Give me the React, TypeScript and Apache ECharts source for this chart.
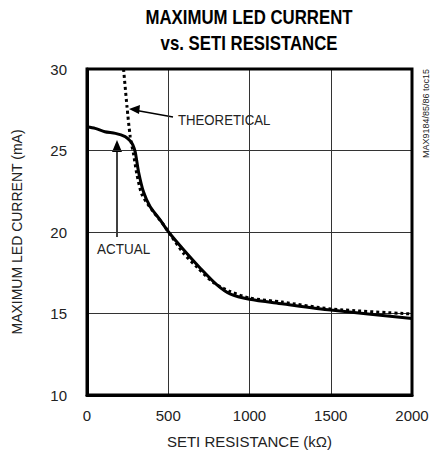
import React, { useEffect, useRef } from "react";
import * as echarts from "echarts";

const actualR = [0, 50, 110, 175, 235, 265, 282, 297, 317, 348, 389, 450, 502, 600, 700, 800, 880, 1000, 1200, 1500, 2000];
const actualI = [26.46, 26.36, 26.15, 26.05, 25.85, 25.6, 25.35, 24.9, 23.7, 22.45, 21.55, 20.74, 20.0, 18.85, 17.75, 16.75, 16.2, 15.87, 15.6, 15.21, 14.7];

const theoR = [225, 246, 266, 287, 307, 338, 400, 471, 512, 594, 676, 778, 881, 1000, 1200, 1500, 2000];
const theoI = [30, 27.7, 25.85, 24.75, 23.55, 22.3, 21.35, 20.45, 19.85, 18.7, 17.85, 16.9, 16.35, 15.95, 15.7, 15.28, 14.97];

const xTicks = [0, 500, 1000, 1500, 2000];
const yTicks = [10, 15, 20, 25, 30];

const FONT = "'Liberation Sans', Arial, sans-serif";

export default function App() {
  const ref = useRef<HTMLDivElement>(null);
  useEffect(() => {
    if (!ref.current) return;
    const chart = echarts.init(ref.current, null, { renderer: "svg" });
    const toPairs = (xs: number[], ys: number[]) => xs.map((x, i) => [x, ys[i]]);
    chart.setOption({
      animation: false,
      backgroundColor: "#ffffff",
      grid: { left: 87, right: 28, top: 69, bottom: 60, containLabel: false },
      xAxis: {
        type: "value",
        min: xTicks[0],
        max: xTicks[xTicks.length - 1],
        interval: 500,
        name: "SETI RESISTANCE (kΩ)",
        nameLocation: "middle",
        nameGap: 39,
        nameTextStyle: { fontFamily: FONT, fontSize: 15, color: "#222" },
        axisLine: { show: true, lineStyle: { color: "#000", width: 3 } },
        axisTick: { show: false },
        axisLabel: { fontFamily: FONT, fontSize: 15, color: "#222", margin: 13, formatter: (v: number) => String(v) },
        splitLine: { show: true, lineStyle: { color: "#333", width: 1 } },
      },
      yAxis: {
        type: "value",
        min: yTicks[0],
        max: yTicks[yTicks.length - 1],
        interval: 5,
        name: "MAXIMUM LED CURRENT (mA)",
        nameLocation: "middle",
        nameGap: 63,
        nameTextStyle: { fontFamily: FONT, fontSize: 14, color: "#222" },
        axisLine: { show: true, lineStyle: { color: "#000", width: 3 } },
        axisTick: { show: false },
        axisLabel: { fontFamily: FONT, fontSize: 15, color: "#222", margin: 20 },
        splitLine: { show: true, lineStyle: { color: "#333", width: 1 } },
      },
      series: [
        {
          type: "line",
          data: toPairs(theoR, theoI),
          smooth: 0.25,
          showSymbol: false,
          clip: true,
          lineStyle: { color: "#000", width: 3, type: [3, 3] },
        },
        {
          type: "line",
          data: toPairs(actualR, actualI),
          smooth: 0.25,
          showSymbol: false,
          clip: true,
          lineStyle: { color: "#000", width: 3 },
        },
      ],
      graphic: [
        { type: "text", x: 249, y: 17, scaleX: 0.84, style: { text: "MAXIMUM LED CURRENT", fontFamily: FONT, fontWeight: "bold", fontSize: 20, fill: "#000", align: "center", verticalAlign: "middle" } },
        { type: "text", x: 249, y: 43, scaleX: 0.84, style: { text: "vs. SETI RESISTANCE", fontFamily: FONT, fontWeight: "bold", fontSize: 20, fill: "#000", align: "center", verticalAlign: "middle" } },
        { type: "rect", shape: { x: 87, y: 69, width: 325, height: 326 }, style: { fill: "none", stroke: "#000", lineWidth: 3 }, z: 10 },
        { type: "text", x: 178, y: 120, scaleX: 0.88, style: { text: "THEORETICAL", fontFamily: FONT, fontSize: 15, fill: "#222", verticalAlign: "middle" } },
        { type: "line", shape: { x1: 173, y1: 117, x2: 134, y2: 110 }, style: { stroke: "#000", lineWidth: 1.5 } },
        { type: "polygon", shape: { points: [[129, 109], [140, 105], [139, 114]] }, style: { fill: "#000" } },
        { type: "text", x: 97, y: 249, scaleX: 0.9, style: { text: "ACTUAL", fontFamily: FONT, fontSize: 15, fill: "#222", verticalAlign: "middle" } },
        { type: "line", shape: { x1: 117, y1: 237, x2: 117, y2: 148 }, style: { stroke: "#000", lineWidth: 1.5 } },
        { type: "polygon", shape: { points: [[117, 140], [112, 152], [122, 152]] }, style: { fill: "#000" } },
        { type: "text", x: 426, y: 158, rotation: Math.PI / 2, style: { text: "MAX9184/85/86 toc15", fontFamily: FONT, fontSize: 9, fill: "#222", verticalAlign: "middle" } },
      ],
    });
    return () => chart.dispose();
  }, []);
  return <div ref={ref} style={{ width: 440, height: 455, position: "absolute", left: 0, top: 0 }} />;
}
